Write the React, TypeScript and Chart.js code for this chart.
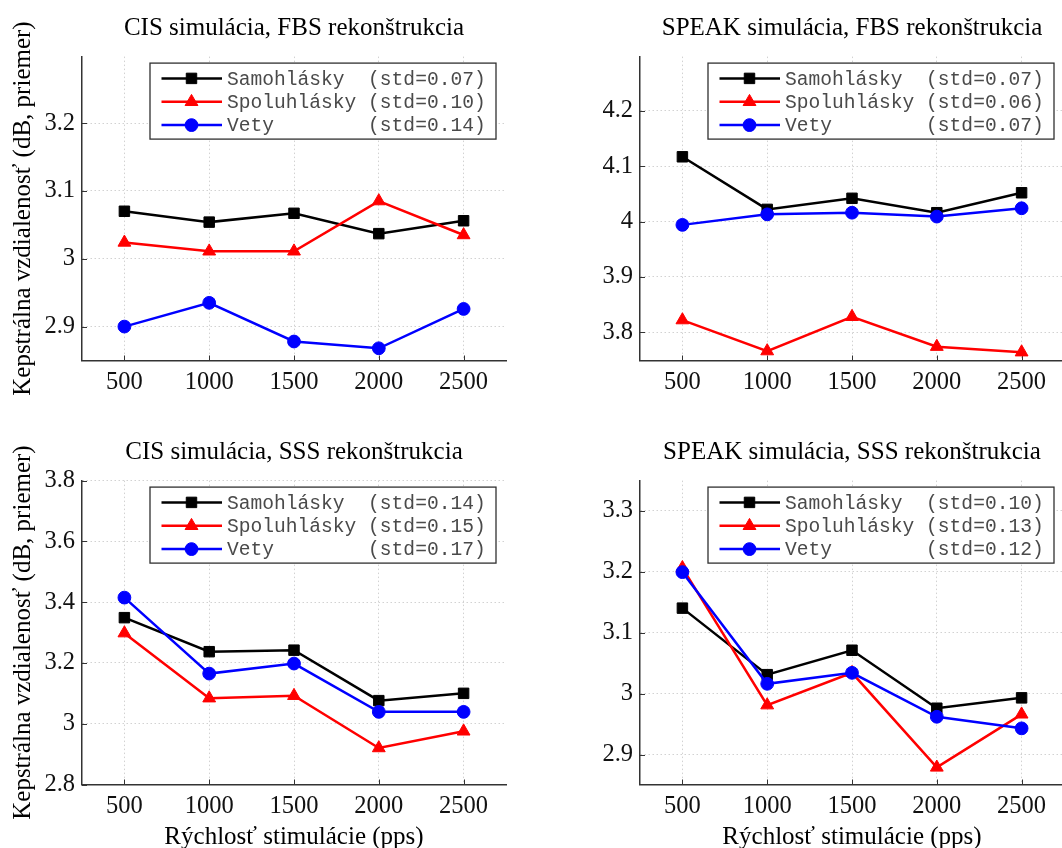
import React, { useEffect, useRef } from 'react';
import { Chart, registerables } from 'chart.js';

Chart.register(...registerables);

// ---------- data ----------
const rates = [500, 1000, 1500, 2000, 2500];
const seriesNames = ['Samohlásky', 'Spoluhlásky', 'Vety'];
const xTicks = [500, 1000, 1500, 2000, 2500];

// CIS simulácia, FBS rekonštrukcia
const cisFbsVowels = [3.070, 3.054, 3.067, 3.037, 3.056];
const cisFbsConsonants = [3.024, 3.011, 3.011, 3.085, 3.035];
const cisFbsSentences = [2.900, 2.935, 2.878, 2.868, 2.926];
const cisFbsStd = ['0.07', '0.10', '0.14'];
const cisFbsYTicks = [2.9, 3.0, 3.1, 3.2];

// SPEAK simulácia, FBS rekonštrukcia
const speakFbsVowels = [4.117, 4.022, 4.042, 4.016, 4.052];
const speakFbsConsonants = [3.822, 3.766, 3.828, 3.774, 3.764];
const speakFbsSentences = [3.994, 4.013, 4.016, 4.009, 4.024];
const speakFbsStd = ['0.07', '0.06', '0.07'];
const speakFbsYTicks = [3.8, 3.9, 4.0, 4.1, 4.2];

// CIS simulácia, SSS rekonštrukcia
const cisSssVowels = [3.349, 3.237, 3.242, 3.076, 3.100];
const cisSssConsonants = [3.298, 3.084, 3.092, 2.920, 2.975];
const cisSssSentences = [3.415, 3.165, 3.198, 3.039, 3.039];
const cisSssStd = ['0.14', '0.15', '0.17'];
const cisSssYTicks = [2.8, 3.0, 3.2, 3.4, 3.6, 3.8];

// SPEAK simulácia, SSS rekonštrukcia
const speakSssVowels = [3.140, 3.031, 3.071, 2.976, 2.993];
const speakSssConsonants = [3.206, 2.981, 3.034, 2.879, 2.966];
const speakSssSentences = [3.199, 3.016, 3.034, 2.962, 2.943];
const speakSssStd = ['0.10', '0.13', '0.12'];
const speakSssYTicks = [2.9, 3.0, 3.1, 3.2, 3.3];

const yAxisTitle = 'Kepstrálna vzdialenosť (dB, priemer)';
const xAxisTitle = 'Rýchlosť stimulácie (pps)';

// ---------- styles ----------
const colors = ['#000000', '#ff0000', '#0000ff'];
const pointStyles = ['rect', 'triangle', 'circle'];
const pointRadii = [7.4, 7.4, 6.4];
const AXIS_COLOR = '#333333';
const GRID_COLOR = '#d2d2d2';
const SERIF = '"Liberation Serif", "Times New Roman", serif';
const MONO = '"Liberation Mono", "Courier New", monospace';

const CW = 588;
const CH = 424;
const Y_W = 82;
const CHART_TOP = 56.6;
const CHART_BOTTOM = 360.5;
const TITLE_CENTER = 28;
const TITLE_SIZE = 25;
const TICK_SIZE = 24.5;

type PanelCfg = {
  left: number;
  top: number;
  title: string;
  series: number[][];
  std: string[];
  yMin: number;
  yMax: number;
  yTicks: number[];
  showYTitle: boolean;
  showXTitle: boolean;
};

const panels: PanelCfg[] = [
  {
    left: 0, top: 0, title: 'CIS simulácia, FBS rekonštrukcia',
    series: [cisFbsVowels, cisFbsConsonants, cisFbsSentences], std: cisFbsStd,
    yMin: 2.85, yMax: 3.298, yTicks: cisFbsYTicks, showYTitle: true, showXTitle: false,
  },
  {
    left: 558, top: 0, title: 'SPEAK simulácia, FBS rekonštrukcia',
    series: [speakFbsVowels, speakFbsConsonants, speakFbsSentences], std: speakFbsStd,
    yMin: 3.749, yMax: 4.298, yTicks: speakFbsYTicks, showYTitle: false, showXTitle: false,
  },
  {
    left: 0, top: 424, title: 'CIS simulácia, SSS rekonštrukcia',
    series: [cisSssVowels, cisSssConsonants, cisSssSentences], std: cisSssStd,
    yMin: 2.8, yMax: 3.8, yTicks: cisSssYTicks, showYTitle: true, showXTitle: true,
  },
  {
    left: 558, top: 424, title: 'SPEAK simulácia, SSS rekonštrukcia',
    series: [speakSssVowels, speakSssConsonants, speakSssSentences], std: speakSssStd,
    yMin: 2.851, yMax: 3.349, yTicks: speakSssYTicks, showYTitle: false, showXTitle: true,
  },
];

function drawMarker(ctx: CanvasRenderingContext2D, style: string, x: number, y: number, r: number, color: string) {
  ctx.save();
  ctx.fillStyle = color;
  ctx.strokeStyle = color;
  ctx.lineWidth = 1;
  ctx.beginPath();
  if (style === 'rect') {
    const s = r * Math.SQRT1_2;
    ctx.rect(x - s, y - s, 2 * s, 2 * s);
  } else if (style === 'triangle') {
    const a = (2 * Math.PI) / 3;
    ctx.moveTo(x, y - r);
    ctx.lineTo(x + Math.sin(a) * r, y - Math.cos(a) * r);
    ctx.lineTo(x + Math.sin(2 * a) * r, y - Math.cos(2 * a) * r);
    ctx.closePath();
  } else {
    ctx.arc(x, y, r, 0, Math.PI * 2);
  }
  ctx.fill();
  ctx.stroke();
  ctx.restore();
}

const innerTicksPlugin = {
  id: 'innerTicks',
  beforeDatasetsDraw(chart: any) {
    const { ctx, chartArea, scales } = chart;
    ctx.save();
    ctx.strokeStyle = AXIS_COLOR;
    ctx.lineWidth = 1;
    ctx.beginPath();
    for (const t of scales.x.ticks) {
      const px = Math.round(scales.x.getPixelForValue(t.value)) + 0.5;
      ctx.moveTo(px, chartArea.bottom);
      ctx.lineTo(px, chartArea.bottom - 5);
    }
    for (const t of scales.y.ticks) {
      const py = Math.round(scales.y.getPixelForValue(t.value)) + 0.5;
      ctx.moveTo(chartArea.left, py);
      ctx.lineTo(chartArea.left + 5, py);
    }
    ctx.stroke();
    ctx.restore();
  },
};

const boxLegendPlugin = {
  id: 'boxLegend',
  afterDatasetsDraw(chart: any, _args: any, opts: any) {
    const { ctx, chartArea } = chart;
    const w = 346;
    const h = 76;
    const bx = chartArea.right - 10 - w;
    const by = chartArea.top + 6.5;
    ctx.save();
    ctx.fillStyle = '#ffffff';
    ctx.fillRect(bx, by, w, h);
    ctx.strokeStyle = '#303030';
    ctx.lineWidth = 1.3;
    ctx.strokeRect(bx, by, w, h);
    const rows = [15.3, 38.7, 62];
    chart.data.datasets.forEach((ds: any, i: number) => {
      const y = by + rows[i];
      ctx.strokeStyle = colors[i];
      ctx.lineWidth = 2.5;
      ctx.beginPath();
      ctx.moveTo(bx + 11.5, y);
      ctx.lineTo(bx + 72, y);
      ctx.stroke();
      drawMarker(ctx, pointStyles[i], bx + 41.5, y, pointRadii[i], colors[i]);
      ctx.fillStyle = '#4a4a4a';
      ctx.font = `19.6px ${MONO}`;
      ctx.textBaseline = 'middle';
      ctx.textAlign = 'left';
      const text = ds.label.padEnd(12, ' ') + '(std=' + opts.std[i] + ')';
      ctx.fillText(text, bx + 77, y + 1);
    });
    ctx.restore();
  },
};

function Panel({ cfg }: { cfg: PanelCfg }) {
  const ref = useRef<HTMLCanvasElement | null>(null);
  useEffect(() => {
    if (!ref.current) return;
    const datasets = cfg.series.map((vals, i) => ({
      label: seriesNames[i],
      data: rates.map((r, j) => ({ x: r, y: vals[j] })),
      borderColor: colors[i],
      backgroundColor: colors[i],
      borderWidth: 2.5,
      pointStyle: pointStyles[i],
      pointRadius: pointRadii[i],
      pointBorderWidth: 1,
      pointBackgroundColor: colors[i],
      pointBorderColor: colors[i],
      tension: 0,
      clip: false,
      order: 2 - i,
    }));
    const chart = new Chart(ref.current, {
      type: 'line',
      data: { datasets },
      options: {
        animation: false,
        responsive: false,
        devicePixelRatio: 1,
        layout: { autoPadding: false, padding: { left: 0, right: CW - 506, top: 0, bottom: 0 } },
        plugins: {
          legend: { display: false },
          tooltip: { enabled: false },
          title: {
            display: true,
            fullSize: false,
            align: 'center',
            text: cfg.title,
            color: '#000000',
            font: { family: SERIF, size: TITLE_SIZE, weight: 'normal', lineHeight: 1 },
            padding: { top: TITLE_CENTER - TITLE_SIZE / 2, bottom: CHART_TOP - TITLE_CENTER - TITLE_SIZE / 2 },
          },
          boxLegend: { std: cfg.std },
        } as any,
        scales: {
          x: {
            type: 'linear',
            min: 250,
            max: 2750,
            afterBuildTicks: (s: any) => { s.ticks = xTicks.map((v) => ({ value: v })); },
            afterFit: (s: any) => { s.height = CH - CHART_BOTTOM; },
            ticks: {
              color: '#111111',
              font: { family: SERIF, size: TICK_SIZE },
              padding: 7,
              maxRotation: 0,
              autoSkip: false,
              callback: (v: any) => String(v),
            },
            grid: { color: GRID_COLOR, lineWidth: 1, drawTicks: false },
            border: { display: true, color: AXIS_COLOR, width: 1.5, dash: [1.5, 2.5] },
            title: {
              display: cfg.showXTitle,
              text: xAxisTitle,
              color: '#000000',
              font: { family: SERIF, size: TITLE_SIZE, lineHeight: 1 },
              padding: { top: 0, bottom: -2 },
            },
          },
          y: {
            type: 'linear',
            min: cfg.yMin,
            max: cfg.yMax,
            afterBuildTicks: (s: any) => { s.ticks = cfg.yTicks.map((v) => ({ value: v })); },
            afterFit: (s: any) => { s.width = Y_W; },
            ticks: {
              color: '#111111',
              font: { family: SERIF, size: TICK_SIZE },
              padding: 7,
              autoSkip: false,
              callback: (v: any) => String(Math.round(Number(v) * 10) / 10),
            },
            grid: { color: GRID_COLOR, lineWidth: 1, drawTicks: false },
            border: { display: true, color: AXIS_COLOR, width: 1.5, dash: [1.5, 2.5] },
            title: {
              display: cfg.showYTitle,
              text: yAxisTitle,
              color: '#000000',
              font: { family: SERIF, size: TITLE_SIZE, lineHeight: 1 },
              padding: { top: 11, bottom: 0 },
            },
          },
        },
      } as any,
      plugins: [innerTicksPlugin, boxLegendPlugin],
    });
    return () => chart.destroy();
  }, [cfg]);
  return (
    <canvas
      ref={ref}
      width={CW}
      height={CH}
      style={{ position: 'absolute', left: cfg.left, top: cfg.top, width: CW, height: CH }}
    />
  );
}

export default function App() {
  return (
    <div
      style={{
        position: 'fixed',
        left: 0,
        top: 0,
        width: 1062,
        height: 848,
        overflow: 'hidden',
        background: '#ffffff',
      }}
    >
      {panels.map((p, i) => (
        <Panel key={i} cfg={p} />
      ))}
    </div>
  );
}
